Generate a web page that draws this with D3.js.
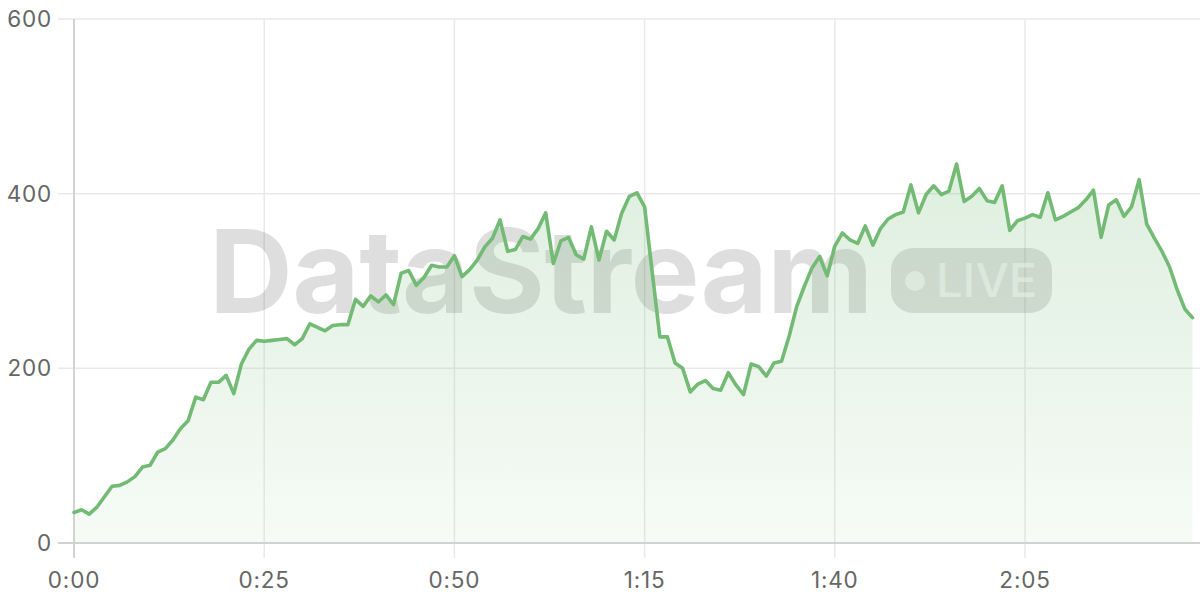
<!DOCTYPE html>
<html>
<head>
<meta charset="utf-8">
<script src="https://cdn.jsdelivr.net/npm/d3@7"></script>
<style>
  html, body { margin: 0; padding: 0; background: #fff; }
  svg { display: block; }
</style>
</head>
<body>
<svg id="chart" width="1200" height="600"></svg>
<script>
// ---- data ----
const seconds = d3.range(0, 148);
const values = [
  35, 38, 33, 41, 53, 65, 66, 70, 76, 87,
  89, 104, 108, 118, 131, 140, 167, 164, 184, 184,
  192, 171, 205, 222, 232, 231, 232, 233, 234, 227,
  234, 251, 247, 243, 249, 250, 250, 279, 271, 283,
  276, 284, 273, 309, 312, 295, 304, 318, 316, 316,
  329, 305, 313, 324, 339, 349, 370, 334, 336, 351,
  348, 360, 378, 320, 346, 350, 330, 325, 362, 324,
  357, 347, 378, 397, 401, 385, 310, 236, 236, 206,
  200, 173, 182, 186, 177, 175, 195, 181, 170, 205,
  202, 191, 206, 208, 237, 271, 294, 315, 328, 306,
  340, 355, 347, 343, 363, 341, 360, 371, 376, 379,
  410, 378, 399, 409, 399, 403, 434, 391, 397, 406,
  392, 390, 409, 358, 369, 372, 376, 373, 401, 370,
  374, 379, 384, 393, 404, 350, 387, 393, 374, 385,
  416, 365, 349, 334, 316, 290, 268, 258
];
const xTicks = [0, 25, 50, 75, 100, 125];
const yTicks = [0, 200, 400, 600];
const watermarkText = "DataStream";
const badgeText = "LIVE";

// ---- layout ----
const svg = d3.select("#chart");
const mLeft = 74, mRight = 1200, mTop = 19, mBottom = 543;
const x = d3.scaleLinear().domain([0, 148]).range([mLeft, mRight]);
const y = d3.scaleLinear().domain([0, 600]).range([mBottom, mTop]);
const green = "#73bb75";
const fontFam = "Inter, 'Open Sans', sans-serif";

const data = seconds.map((s, i) => ({ s, v: values[i] }));
const fmt = s => Math.floor(s / 60) + ":" + String(s % 60).padStart(2, "0");

// gradient
const defs = svg.append("defs");
const grad = defs.append("linearGradient")
  .attr("id", "areaGrad").attr("gradientUnits", "userSpaceOnUse")
  .attr("x1", 0).attr("x2", 0).attr("y1", y(440)).attr("y2", y(0));
grad.append("stop").attr("offset", "0%").attr("stop-color", green).attr("stop-opacity", 0.24);
grad.append("stop").attr("offset", "100%").attr("stop-color", green).attr("stop-opacity", 0.06);

// grid - horizontal
svg.append("g").selectAll("line").data(yTicks.filter(d => d !== 0)).join("line")
  .attr("x1", mLeft - 16).attr("x2", mRight)
  .attr("y1", d => y(d)).attr("y2", d => y(d))
  .attr("stroke", "#e9e9e9").attr("stroke-width", 1.5);
// grid - vertical
svg.append("g").selectAll("line").data(xTicks.filter(d => d !== 0)).join("line")
  .attr("x1", d => x(d)).attr("x2", d => x(d))
  .attr("y1", mTop).attr("y2", mBottom + 15)
  .attr("stroke", "#e9e9e9").attr("stroke-width", 1.5);

// watermark
const wm = svg.append("g").attr("pointer-events", "none");
wm.append("text")
  .attr("x", 209).attr("y", 313)
  .attr("font-family", fontFam).attr("font-weight", 700)
  .attr("font-size", 116).attr("letter-spacing", -0.4)
  .attr("fill", "#000").attr("fill-opacity", 0.13)
  .text(watermarkText);
wm.append("rect")
  .attr("x", 891).attr("y", 248).attr("width", 161).attr("height", 65)
  .attr("rx", 22).attr("fill", "#000").attr("fill-opacity", 0.12);
wm.append("circle")
  .attr("cx", 915).attr("cy", 281).attr("r", 10)
  .attr("fill", "#fff").attr("fill-opacity", 0.6);
wm.append("text")
  .attr("x", 936).attr("y", 297)
  .attr("font-family", fontFam).attr("font-weight", 500)
  .attr("font-size", 47)
  .attr("fill", "#fff").attr("fill-opacity", 0.6)
  .text(badgeText);

// area
const area = d3.area().x(d => x(d.s)).y0(y(0)).y1(d => y(d.v)).curve(d3.curveLinear);
svg.append("path").datum(data).attr("d", area).attr("fill", "url(#areaGrad)");

// axes lines
svg.append("line").attr("x1", mLeft).attr("x2", mLeft).attr("y1", mTop).attr("y2", mBottom + 15)
  .attr("stroke", "#d2d2d2").attr("stroke-width", 2);
svg.append("line").attr("x1", mLeft - 16).attr("x2", mRight).attr("y1", mBottom).attr("y2", mBottom)
  .attr("stroke", "#d2d2d2").attr("stroke-width", 2);

// line
const line = d3.line().x(d => x(d.s)).y(d => y(d.v)).curve(d3.curveLinear);
svg.append("path").datum(data).attr("d", line)
  .attr("fill", "none").attr("stroke", green).attr("stroke-width", 3.6)
  .attr("stroke-linejoin", "round").attr("stroke-linecap", "round");

// tick labels
svg.append("g").selectAll("text").data(yTicks).join("text")
  .attr("x", mLeft - 22).attr("y", d => y(d)).attr("dy", "0.36em")
  .attr("text-anchor", "end")
  .attr("font-family", fontFam).attr("font-size", 22.5).attr("letter-spacing", 0.8)
  .attr("fill", "#666")
  .text(d => d);
svg.append("g").selectAll("text").data(xTicks).join("text")
  .attr("x", d => x(d)).attr("y", 588)
  .attr("text-anchor", "middle")
  .attr("font-family", fontFam).attr("font-size", 22.5).attr("letter-spacing", 0.8)
  .attr("fill", "#666")
  .text(d => fmt(d));
</script>
</body>
</html>
